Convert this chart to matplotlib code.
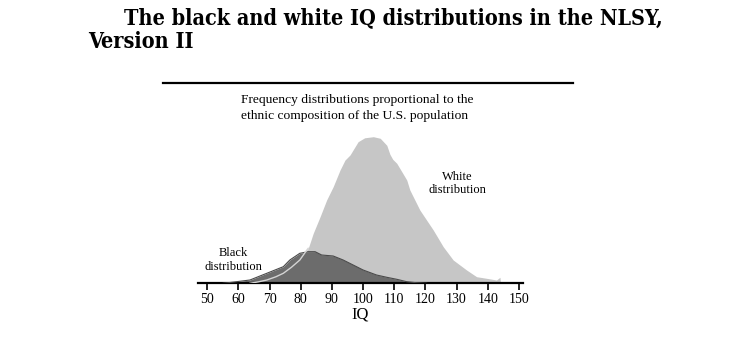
import matplotlib.pyplot as plt
import numpy as np

# IQ points and relative frequencies (arbitrary units)
iq_white = [63.7, 66.5, 69.1, 72.0, 74.4, 77.0, 79.7, 81.9, 82.4, 84.0, 86.2, 88.3, 90.4, 92.6,
            94.2, 95.8, 98.4, 100.5, 103.3, 105.5, 107.6, 108.6, 109.5, 110.8, 114.0, 115.0,
            118.2, 122.5, 125.7, 128.9, 133.2, 136.4, 139.6, 142.8, 143.9, 144.1]
freq_white = [0, 1.5, 3.3, 6.5, 10, 16, 23.3, 33, 35, 50, 66.6, 83.3, 96.6, 113.3,
              123.3, 128.3, 141.6, 145.5, 146.6, 145, 138, 129, 124, 120, 103.3, 93.3,
              73.3, 53.3, 36.6, 23.3, 13.3, 6.6, 5, 3.3, 6, 0]

iq_black = [55.1, 59.4, 63.7, 69.1, 74.4, 76.5, 79.7, 82.4, 84.6, 86.7, 90.4, 93.6, 96.8,
            100.0, 104.3, 107.6, 110.8, 114.0, 117.0, 120.4]
freq_black = [0, 1.6, 3.3, 10, 16.6, 23.3, 30, 31.6, 31.6, 28.3, 27.3, 23.3, 18.3,
              13.3, 8.3, 6, 4, 1.6, 0.6, 0]

ticks = [50, 60, 70, 80, 90, 100, 110, 120, 130, 140, 150]

W, H = 750, 361
fig = plt.figure(figsize=(W / 100, H / 100), dpi=100)
fig.patch.set_facecolor('white')

ax = fig.add_axes([197.9 / W, (H - 283.3) / H, 325.1 / W, 150 / H])
ax.set_xlim(47, 151.3)
ax.set_ylim(0, 150)

ax.fill_between(iq_white, freq_white, color='#c6c6c6', lw=0, zorder=1)
ax.fill_between(iq_black, freq_black, color='#6c6c6c', lw=0, zorder=2)
ax.plot(iq_black, freq_black, color='#4a4a4a', lw=0.8, zorder=3)
# light outline of the white curve shows through the black area
ax.plot(iq_white[:9], freq_white[:9], color='#d4d4d4', lw=1.0, zorder=4)

for s in ['top', 'right', 'left']:
    ax.spines[s].set_visible(False)
ax.spines['bottom'].set_linewidth(1.6)
ax.set_yticks([])
ax.set_xticks(ticks)
ax.tick_params(axis='x', direction='out', length=5, width=1.2, pad=2,
               labelsize=10)
for lab in ax.get_xticklabels():
    lab.set_fontfamily('Liberation Serif')
ax.set_xlabel('IQ', fontfamily='Liberation Serif', fontsize=12, labelpad=0)

ax.text(58.3, 10, 'Black\ndistribution', ha='center', va='bottom',
        fontfamily='Liberation Serif', fontsize=9, linespacing=1.2)
ax.text(130.2, 87, 'White\ndistribution', ha='center', va='bottom',
        fontfamily='Liberation Serif', fontsize=9, linespacing=1.2)

# title and subtitle
fig.text(124 / W, 1 - 18 / H, 'The black and white IQ distributions in the NLSY,',
         fontfamily='DejaVu Serif', fontweight='bold', fontsize=15.5, va='center',
         fontstretch='condensed')
fig.text(88 / W, 1 - 42 / H, 'Version II',
         fontfamily='DejaVu Serif', fontweight='bold', fontsize=15.5, va='center',
         fontstretch='condensed')

fig.add_artist(plt.Line2D([163 / W, 573 / W], [1 - 83 / H, 1 - 83 / H],
                          color='black', lw=1.6))
fig.text(241 / W, 1 - 100 / H, 'Frequency distributions proportional to the',
         fontfamily='Liberation Serif', fontsize=9.7, va='center')
fig.text(241 / W, 1 - 116 / H, 'ethnic composition of the U.S. population',
         fontfamily='Liberation Serif', fontsize=9.7, va='center')

fig.savefig('out.png', dpi=100)
